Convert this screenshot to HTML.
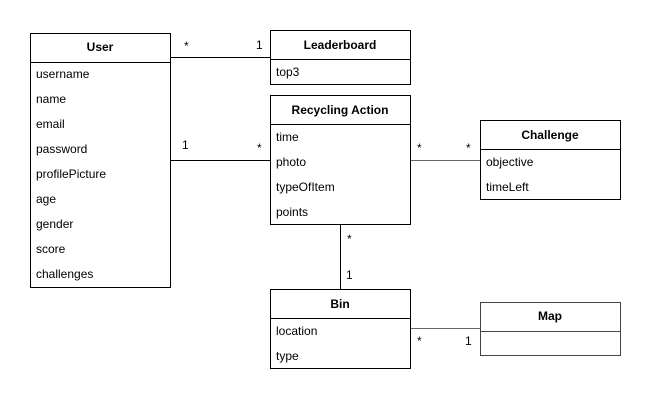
<!DOCTYPE html>
<html><head><meta charset="utf-8"><style>
html,body{margin:0;padding:0;background:#fff;width:652px;height:400px;overflow:hidden}
text{font-family:"Liberation Sans",Arial,sans-serif;font-size:12px;fill:#000}
.h{font-weight:bold;text-anchor:middle}
</style></head><body>
<svg width="652" height="400" viewBox="0 0 652 400" xmlns="http://www.w3.org/2000/svg">
<g fill="none" stroke="#000" stroke-width="1" shape-rendering="crispEdges">
<!-- connectors -->
<line x1="170.5" y1="57.5" x2="270.5" y2="57.5"/>
<line x1="170.5" y1="160.5" x2="270.5" y2="160.5"/>
<line x1="410.5" y1="160.5" x2="480.5" y2="160.5" stroke="#666"/>
<line x1="340.5" y1="224.5" x2="340.5" y2="289.5"/>
<line x1="410.5" y1="328.5" x2="480.5" y2="328.5" stroke="#666"/>
<!-- User -->
<rect x="30.5" y="33.5" width="140" height="254"/>
<line x1="30.5" y1="62.5" x2="170.5" y2="62.5"/>
<!-- Leaderboard -->
<rect x="270.5" y="30.5" width="140" height="54"/>
<line x1="270.5" y1="59.5" x2="410.5" y2="59.5"/>
<!-- Recycling -->
<rect x="270.5" y="95.5" width="140" height="129"/>
<line x1="270.5" y1="124.5" x2="410.5" y2="124.5"/>
<!-- Challenge -->
<rect x="480.5" y="120.5" width="140" height="79"/>
<line x1="480.5" y1="149.5" x2="620.5" y2="149.5"/>
<!-- Bin -->
<rect x="270.5" y="289.5" width="140" height="79"/>
<line x1="270.5" y1="318.5" x2="410.5" y2="318.5"/>
<!-- Map -->
<rect x="480.5" y="302.5" width="140" height="53" stroke="#444"/>
<line x1="480.5" y1="331.5" x2="620.5" y2="331.5" stroke="#444"/>
</g>
<text class="h" x="100" y="51">User</text>
<text x="36" y="78">username</text>
<text x="36" y="103">name</text>
<text x="36" y="128">email</text>
<text x="36" y="153">password</text>
<text x="36" y="178">profilePicture</text>
<text x="36" y="203">age</text>
<text x="36" y="228">gender</text>
<text x="36" y="253">score</text>
<text x="36" y="278">challenges</text>

<text class="h" x="340" y="49">Leaderboard</text>
<text x="276" y="76">top3</text>

<text class="h" x="340" y="114">Recycling Action</text>
<text x="276" y="141">time</text>
<text x="276" y="166">photo</text>
<text x="276" y="191">typeOfItem</text>
<text x="276" y="216">points</text>

<text class="h" x="550" y="139">Challenge</text>
<text x="486" y="166">objective</text>
<text x="486" y="191">timeLeft</text>

<text class="h" x="340" y="308">Bin</text>
<text x="276" y="335">location</text>
<text x="276" y="360">type</text>

<text class="h" x="550" y="320">Map</text>

<text x="184" y="50">*</text>
<text x="256" y="49">1</text>
<text x="182" y="149">1</text>
<text x="257" y="152">*</text>
<text x="417" y="152">*</text>
<text x="466" y="152">*</text>
<text x="347" y="243">*</text>
<text x="346" y="279">1</text>
<text x="417" y="345">*</text>
<text x="465" y="345">1</text>
</svg>
</body></html>
